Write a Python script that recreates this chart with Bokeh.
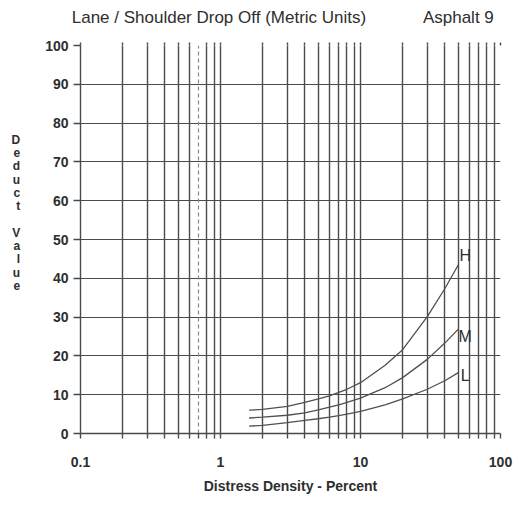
from bokeh.plotting import figure
from bokeh.models import FixedTicker, Grid, CustomJSTickFormatter, Range1d, LogAxis
from bokeh.core.properties import value
from bokeh.embed import file_html
from bokeh.resources import INLINE

# ---- data ----
x_major = [0.1, 1, 10, 100]
x_grid = [0.1, 0.2, 0.3, 0.4, 0.5, 0.6, 0.8, 0.9,
          1, 2, 3, 4, 5, 6, 7, 8, 9,
          10, 20, 30, 40, 50, 60, 70, 80, 90, 100]
x_minor = [0.2, 0.3, 0.4, 0.5, 0.6, 0.7, 0.8, 0.9,
           2, 3, 4, 5, 6, 7, 8, 9,
           20, 30, 40, 50, 60, 70, 80, 90]
x_dashed = [0.7]
y_ticks = [0, 10, 20, 30, 40, 50, 60, 70, 80, 90, 100]

density = [1.6, 2, 3, 4, 5, 6, 7, 8, 10, 15, 20, 30, 40, 50]
deduct_H = [6.0, 6.2, 7.0, 8.0, 8.9, 9.7, 10.6, 11.4, 13.1, 17.6, 21.6, 30.1, 37.3, 43.5]
deduct_M = [4.0, 4.2, 4.7, 5.3, 6.1, 6.8, 7.4, 8.0, 9.1, 11.8, 14.4, 19.1, 23.3, 26.9]
deduct_L = [1.9, 2.1, 2.8, 3.4, 3.8, 4.2, 4.6, 5.0, 5.7, 7.4, 8.9, 11.4, 13.6, 15.7]

sev_names = ["H", "M", "L"]
sev_x = [56, 56, 56]
sev_y = [46, 25, 15]

title_text = "Lane / Shoulder Drop Off (Metric Units)"
title_right = "Asphalt 9"
x_label = "Distress Density - Percent"
y_label = "Deduct Value"

INK = "#2e2e2e"
GRID = "#4a4a4a"
FONT = "Liberation Sans"

p = figure(width=515, height=500, x_axis_type="log",
           x_range=Range1d(0.1, 100), y_range=Range1d(0, 100),
           output_backend="svg", toolbar_location=None,
           min_border_left=80, min_border_right=15,
           min_border_top=45, min_border_bottom=67)
p.outline_line_color = None
p.background_fill_color = "white"

# axes
p.xaxis.ticker = FixedTicker(ticks=x_major, minor_ticks=x_minor)
p.xaxis.formatter = CustomJSTickFormatter(code="return tick >= 1 ? tick.toFixed(0) : tick.toFixed(1);")
p.yaxis.ticker = FixedTicker(ticks=y_ticks)
for ax in (p.xaxis, p.yaxis):
    ax.axis_line_color = GRID
    ax.axis_line_width = 1.4
    ax.major_tick_line_color = GRID
    ax.minor_tick_line_color = GRID
    ax.major_tick_line_width = 1.4
    ax.minor_tick_line_width = 1.4
    ax.major_tick_in = 0
    ax.minor_tick_in = 0
    ax.major_label_text_font = FONT
    ax.major_label_text_font_style = "bold"
    ax.major_label_text_font_size = "14px"
    ax.major_label_text_color = INK
    ax.axis_label_text_font = FONT
    ax.axis_label_text_font_style = "bold"
    ax.axis_label_text_color = INK
p.xaxis.major_tick_out = 5
p.xaxis.minor_tick_out = 5
p.xaxis.major_label_standoff = 18
p.xaxis.axis_label = x_label
p.xaxis.axis_label_text_font_size = "14px"
p.xaxis.axis_label_standoff = 8

p.yaxis.major_tick_out = 7
p.yaxis.minor_tick_out = 0
p.yaxis.major_label_standoff = 5
p.yaxis.axis_label = "\n".join(ch if ch.strip() else " " for ch in y_label) + "\n \n \n \n "
p.yaxis.axis_label_orientation = "horizontal"
p.yaxis.axis_label_text_font_size = "12px"
p.yaxis.axis_label_text_line_height = 0.95
p.yaxis.axis_label_standoff = 22

# title texts carried by an axis above the frame
top = LogAxis(ticker=FixedTicker(ticks=[0.975, 50], minor_ticks=x_grid),
              formatter=CustomJSTickFormatter(args=dict(a=title_text, b=title_right),
                                              code="return tick < 10 ? a : b;"))
top.axis_line_color = None
top.major_tick_line_color = None
top.minor_tick_line_color = GRID
top.minor_tick_line_width = 1.4
top.minor_tick_in = 0
top.minor_tick_out = 3
top.major_tick_in = 0
top.major_tick_out = 0
top.major_label_standoff = 16
top.major_label_text_font = FONT
top.major_label_text_font_size = "17px"
top.major_label_text_color = INK
p.add_layout(top, "above")

# grids
p.xgrid.ticker = FixedTicker(ticks=x_grid)
p.ygrid.ticker = FixedTicker(ticks=y_ticks)
p.xgrid.grid_line_color = GRID
p.xgrid.grid_line_width = 1.4
p.ygrid.grid_line_color = GRID
p.ygrid.grid_line_width = 1.2
p.add_layout(Grid(dimension=0, ticker=FixedTicker(ticks=x_dashed),
                  grid_line_color="#8a8a8a", grid_line_width=1.2,
                  grid_line_dash="4 3"))

# curves
for ys in (deduct_H, deduct_M, deduct_L):
    p.line(density, ys, line_color="#505050", line_width=1.3)

p.text(x=sev_x, y=sev_y, text=sev_names, text_font=value(FONT),
       text_font_size="16px", text_color=INK, text_align="center",
       text_baseline="middle")

open("out.html", "w").write(file_html(p, INLINE))
